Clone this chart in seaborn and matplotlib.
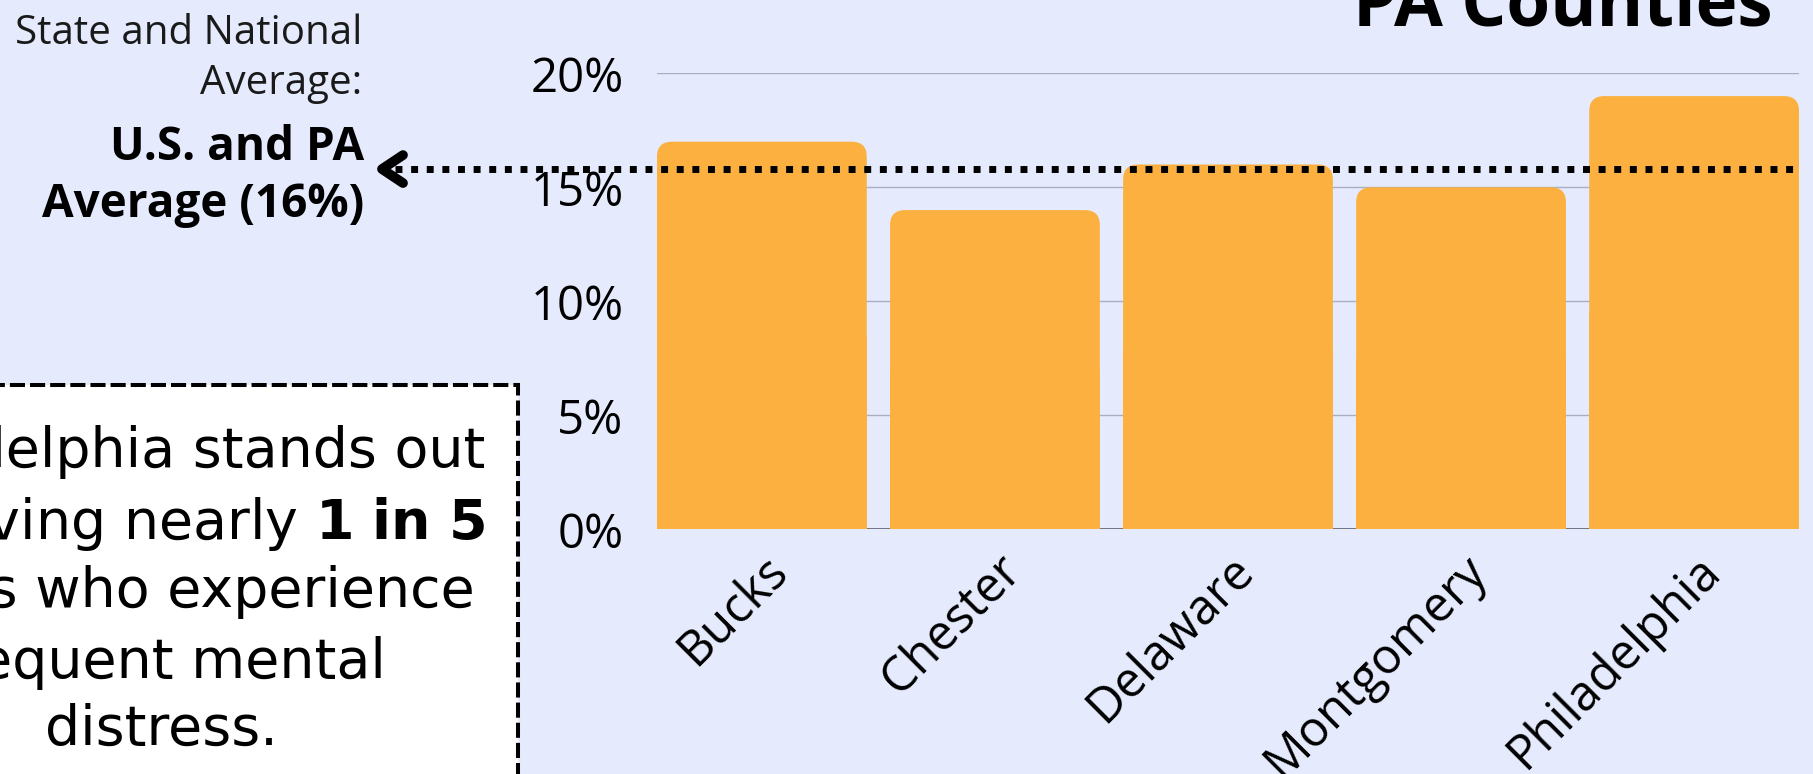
import matplotlib
matplotlib.use("Agg")
import matplotlib.pyplot as plt
import matplotlib.transforms as mtransforms
from matplotlib.patches import FancyBboxPatch, Rectangle
from matplotlib.lines import Line2D
import seaborn as sns
import pandas as pd

# ---- data ----
counties = ["Bucks", "Chester", "Delaware", "Montgomery", "Philadelphia"]
distress_pct = [17, 14, 16, 15, 19]
avg_pct = 15.8
y_ticks = [0, 5, 10, 15, 20]
y_tick_labels = ["0%", "5%", "10%", "15%", "20%"]
title = "PA Counties"
avg_caption = "State and National\nAverage:"
avg_label = "U.S. and PA\nAverage (16%)"
note_lines = ["Philadelphia stands out",
              r"as having nearly $\mathbf{1\ in\ 5}$",
              "adults who experience",
              "frequent mental",
              "distress."]

BG = "#e5ebfd"
BAR = "#fbb040"
W, H = 1813, 774

sns.set_theme(style="white")
plt.rcParams["font.family"] = ["Open Sans", "DejaVu Sans"]
plt.rcParams["mathtext.fontset"] = "custom"
plt.rcParams["mathtext.rm"] = "DejaVu Sans"
plt.rcParams["mathtext.bf"] = "DejaVu Sans:bold"

fig = plt.figure(figsize=(W / 100, H / 100), dpi=100, facecolor=BG)
ax_l, ax_r, ax_t, ax_b = 657, 1799, 73.3, 529.3
ax = fig.add_axes([ax_l / W, 1 - ax_b / H, (ax_r - ax_l) / W, (ax_b - ax_t) / H])
ax.set_facecolor(BG)

df = pd.DataFrame({"county": counties, "pct": distress_pct})
sns.barplot(data=df, x="county", y="pct", color=BAR, width=0.9,
            saturation=1, ax=ax, zorder=3)

ax.set_xlim(-0.45, len(counties) - 0.55)
ax.set_ylim(0, 20)

# rounded tops
x_per_px = (ax.get_xlim()[1] - ax.get_xlim()[0]) / (ax_r - ax_l)
y_per_px = (ax.get_ylim()[1] - ax.get_ylim()[0]) / (ax_b - ax_t)
radius_px = 15
r = radius_px * x_per_px
asp = y_per_px / x_per_px
for p in list(ax.patches):
    x, w, h = p.get_x(), p.get_width(), p.get_height()
    p.set_visible(False)
    ax.add_patch(FancyBboxPatch((x, 0), w, h, boxstyle=f"round,pad=0,rounding_size={r}",
                                mutation_aspect=asp, facecolor=BAR, edgecolor="none", zorder=3))
    ax.add_patch(Rectangle((x, 0), w, h / 2, facecolor=BAR, edgecolor="none", zorder=3))

ax.set_yticks(y_ticks)
ax.set_yticklabels(y_tick_labels)
ax.yaxis.grid(True, color="#a9aec4", lw=1)
ax.set_axisbelow(True)
ax.axhline(0, color="#5f6372", lw=1.2, zorder=2)
sns.despine(ax=ax, left=True, bottom=True)
ax.set_xlabel("")
ax.set_ylabel("")
ax.tick_params(axis="y", length=0, labelsize=34, pad=24, labelcolor="black")
ax.tick_params(axis="x", length=0, labelsize=35, pad=12, labelcolor="black")
offset = mtransforms.ScaledTranslation(1 / 100, 0, fig.dpi_scale_trans)
for lab in ax.get_xticklabels():
    lab.set_rotation(45)
    lab.set_ha("right")
    lab.set_va("top")
    lab.set_rotation_mode("anchor")
    lab.set_transform(lab.get_transform() + offset)

# average line with arrow
blend = mtransforms.blended_transform_factory(ax.transAxes, ax.transData)
start = (395 - ax_l) / (ax_r - ax_l)
ax.plot([start, 1.0], [avg_pct, avg_pct], transform=blend, color="black", lw=5,
        linestyle=(0, (1, 1.25)), dash_capstyle="butt", clip_on=False, zorder=6)
y_disp = ax.transData.transform((0, avg_pct))[1]
tip_x = 382
fig.add_artist(Line2D([tip_x + 21, tip_x, tip_x + 21],
                      [y_disp + 14, y_disp, y_disp - 14],
                      transform=mtransforms.IdentityTransform(), color="black",
                      lw=7, solid_capstyle="round", solid_joinstyle="round", zorder=6))

# texts
fig.text(1773 / W, 1 - 25 / H, title, ha="right", va="baseline",
         fontsize=51, fontweight="bold", color="black")
fig.text(362 / W, 1 - 59 / H, avg_caption, ha="right", va="center",
         fontsize=29, linespacing=1.32, color="#1a1a1a")
fig.text(364 / W, 1 - 176 / H, avg_label, ha="right", va="center",
         fontsize=33, fontweight="bold", linespacing=1.27, color="black")

# note box
fig.add_artist(Rectangle((-20 / W, -30 / H), (518 + 20) / W, (H + 30 - 385) / H,
                         transform=fig.transFigure, facecolor="white", edgecolor="black",
                         lw=2.9, linestyle=(0, (3.75, 1.25)), zorder=1))
line_y = [452, 524, 592, 663, 730]
for txt, yy in zip(note_lines, line_y):
    fig.text(161 / W, 1 - yy / H, txt, ha="center", va="center", fontsize=40,
             family="DejaVu Sans", color="black", zorder=2)

fig.savefig("out.png", dpi=100, facecolor=BG)
